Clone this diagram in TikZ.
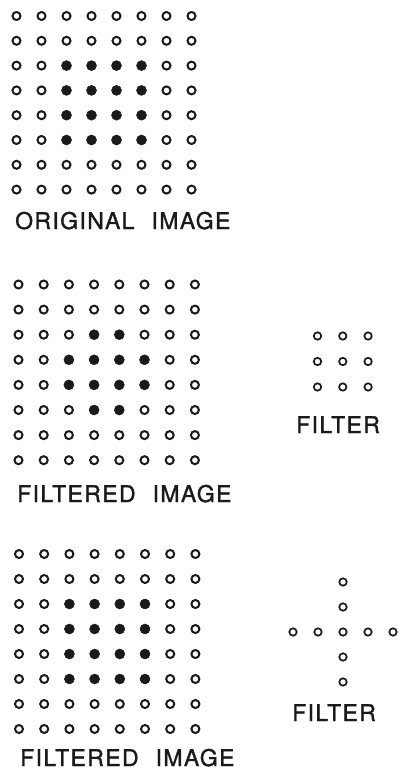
\documentclass[tikz,border=0pt]{standalone}
\usepackage{fontspec}
\newfontfamily\labfont[LetterSpace=6,FakeBold=1.3]{TeX Gyre Heros}
\definecolor{ink}{HTML}{1A1A1A}
\begin{document}
\begin{tikzpicture}[x=1pt,y=-1pt,
  od/.style={circle,draw=ink,line width=2pt,minimum size=8pt,inner sep=0pt},
  fd/.style={circle,fill=ink,draw=ink,line width=0.5pt,minimum size=10pt,inner sep=0pt},
  fo/.style={circle,draw=ink,line width=1.7pt,minimum size=7.4pt,inner sep=0pt},
  lab/.style={anchor=base west,inner sep=0pt,text=ink,font=\labfont\fontsize{23}{23}\selectfont}]
\useasboundingbox (0,0) rectangle (398,773);
% original image
\foreach \r in {0,...,7}{
  \foreach \c in {0,...,7}{
    \pgfmathtruncatemacro\f{and(and(\r>1,\r<6),and(\c>1,\c<6))}
    \ifnum\f=1
      \node[fd] (g1-\r-\c) at (16.5+25*\c,16+24.8*\r) {};
    \else
      \node[od] (g1-\r-\c) at (16.5+25*\c,16+24.8*\r) {};
    \fi
  }
}
% filtered image (3x3 filter)
\foreach \r in {0,...,7}{
  \foreach \c in {0,...,7}{
    \pgfmathtruncatemacro\fin{and(and(\r>1,\r<6),and(\c>1,\c<6))}
    \pgfmathtruncatemacro\fco{and(or(\r==2,\r==5),or(\c==2,\c==5))}
    \pgfmathtruncatemacro\f{\fin-\fco}
    \ifnum\f=1
      \node[fd] (g2-\r-\c) at (18.5+25.2*\c,284.5+25.1*\r) {};
    \else
      \node[od] (g2-\r-\c) at (18.5+25.2*\c,284.5+25.1*\r) {};
    \fi
  }
}
% filtered image (cross filter)
\foreach \r in {0,...,7}{
  \foreach \c in {0,...,7}{
    \pgfmathtruncatemacro\f{and(and(\r>1,\r<6),and(\c>1,\c<6))}
    \ifnum\f=1
      \node[fd] (g3-\r-\c) at (19+25.2*\c,554+25*\r) {};
    \else
      \node[od] (g3-\r-\c) at (19+25.2*\c,554+25*\r) {};
    \fi
  }
}
% 3x3 filter
\foreach \r in {0,1,2}{
  \foreach \c in {0,1,2}{
    \node[fo] (fa-\r-\c) at (317.5+25.3*\c,336+25.5*\r) {};
  }
}
% cross filter
\foreach \k in {0,...,4}{
  \node[fo] (fb-v\k) at (343,582+25*\k) {};
}
\foreach \k/\x in {0/293,1/318,3/368,4/393}{
  \node[fo] (fb-h\k) at (\x,632) {};
}
% labels
\node[lab] (l1) at (15,229) {ORIGINAL\hspace{17pt}IMAGE};
\node[lab] (l2) at (17,502) {FILTERED\hspace{17pt}IMAGE};
\node[lab] (l3) at (20,766) {FILTERED\hspace{17pt}IMAGE};
\node[lab] (l4) at (296,433) {FILTER};
\node[lab] (l5) at (292,721) {FILTER};
\end{tikzpicture}
\end{document}
